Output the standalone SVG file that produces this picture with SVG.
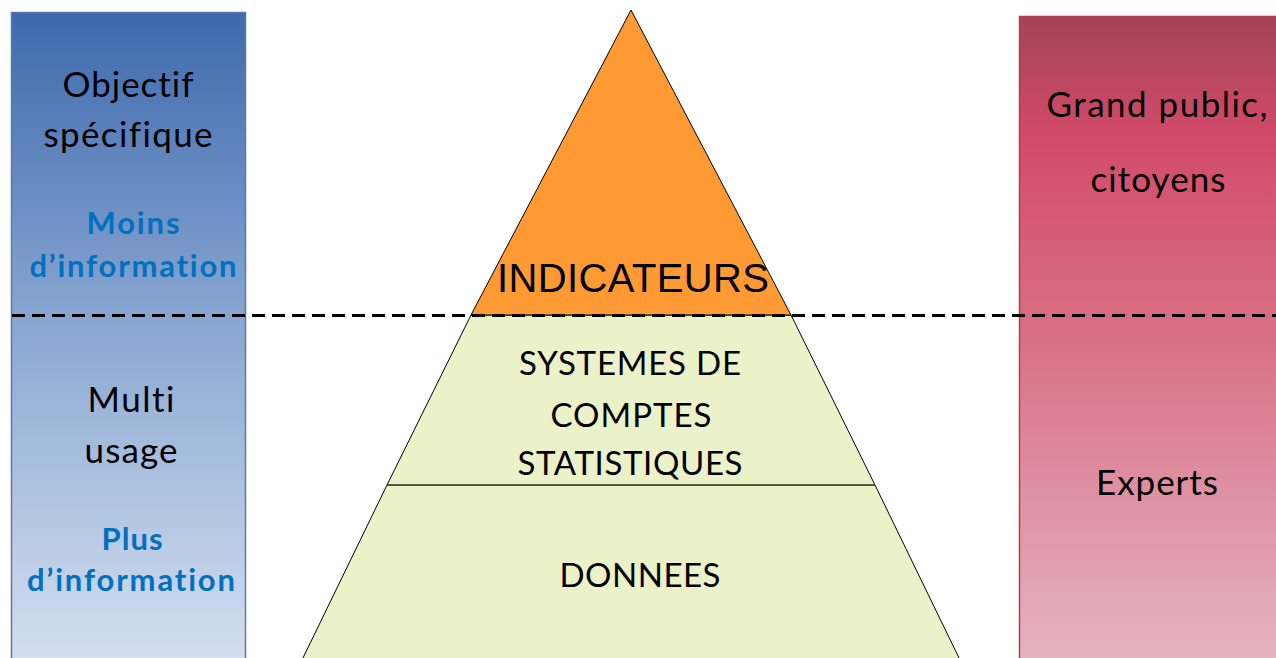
<svg xmlns="http://www.w3.org/2000/svg" width="1276" height="658" viewBox="0 0 1276 658">
  <defs>
    <linearGradient id="gBlue" x1="0" y1="0" x2="0" y2="1">
      <stop offset="0" stop-color="#3E69AD"/>
      <stop offset="0.48" stop-color="#8BA8D2"/>
      <stop offset="1" stop-color="#D6E1F0"/>
    </linearGradient>
    <linearGradient id="gRed" x1="0" y1="0" x2="0" y2="1">
      <stop offset="0" stop-color="#A34358"/>
      <stop offset="0.18" stop-color="#D24A69"/>
      <stop offset="0.47" stop-color="#D96E85"/>
      <stop offset="1" stop-color="#E4B7C2"/>
    </linearGradient>
    <style>
      .t { font-family: Lato, "Open Sans", "Liberation Sans", sans-serif; fill: #000; text-anchor: middle; font-variant-ligatures: none; font-feature-settings: "liga" 0; }
      .big { font-size: 35px; }
      .blue { font-size: 31px; font-weight: bold; fill: #0070C0; }
      .pyr { font-size: 33px; }
      .arial { font-family: "Liberation Sans", Arial, sans-serif; font-size: 40px; fill: #000; text-anchor: middle; }
      .edge { stroke: #000; stroke-width: 1; }
    </style>
  </defs>
  <rect width="1276" height="658" fill="#FFFFFF"/>

  <g id="left-panel">
    <rect x="11.5" y="12.5" width="234" height="660" fill="url(#gBlue)" stroke="#5878B0" stroke-width="1.5"/>
    <text class="t big" x="128" y="97" textLength="131">Objectif</text>
    <text class="t big" x="128" y="147" textLength="169">spécifique</text>
    <text class="t blue" x="133" y="234" textLength="93">Moins</text>
    <text class="t blue" x="133" y="277" textLength="207">d’information</text>
    <text class="t big" x="131" y="412" textLength="87">Multi</text>
    <text class="t big" x="131" y="463" textLength="93">usage</text>
    <text class="t blue" x="132" y="550" textLength="61">Plus</text>
    <text class="t blue" x="131" y="591" textLength="208">d’information</text>
  </g>

  <g id="right-panel">
    <rect x="1019.5" y="16.5" width="270" height="660" fill="url(#gRed)" stroke="#B8385A" stroke-width="1.5"/>
    <text class="t big" x="1157" y="117" textLength="221">Grand public,</text>
    <text class="t big" x="1158" y="192" textLength="135">citoyens</text>
    <text class="t big" x="1157" y="495" textLength="122">Experts</text>
  </g>

  <g id="pyramid-donnees">
    <polygon points="387,485 875,485 961,662 301,662" fill="#EBF1C8" class="edge"/>
    <text class="t pyr" x="640" y="587" textLength="161">DONNEES</text>
  </g>

  <g id="pyramid-systemes">
    <polygon points="471,315 791,315 875,485 387,485" fill="#EBF1C8" class="edge"/>
    <line x1="387" y1="485" x2="875" y2="485" stroke="#4F5A36" stroke-width="1.5"/>
    <text class="t pyr" x="630" y="375" textLength="222">SYSTEMES DE</text>
    <text class="t pyr" x="631" y="427" textLength="161">COMPTES</text>
    <text class="t pyr" x="630" y="475" textLength="225">STATISTIQUES</text>
  </g>

  <g id="pyramid-indicateurs">
    <polygon points="631,10 791,315 471,315" fill="#FF9933" class="edge"/>
    <text class="arial" x="633" y="292" textLength="272">INDICATEURS</text>
  </g>

  <g id="connectors">
    <line x1="12" y1="315.5" x2="1276" y2="315.5" stroke="#000" stroke-width="3" stroke-dasharray="13 7"/>
  </g>
</svg>
